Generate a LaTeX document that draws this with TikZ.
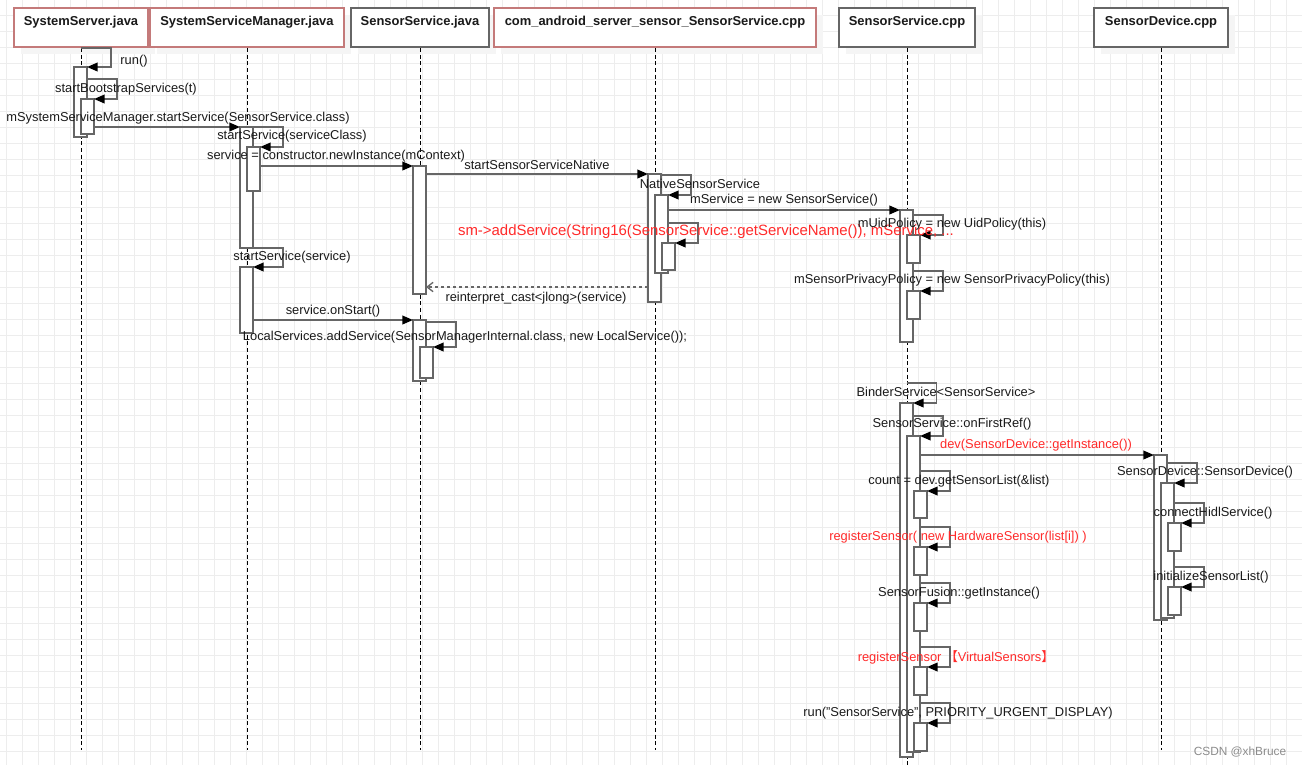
\documentclass[tikz,border=0pt]{standalone}
\usepackage{fontspec}
\setmainfont{Liberation Sans}
\newfontfamily\cjk{Noto Sans CJK SC}
\usetikzlibrary{arrows.meta,calc,shadows}
\definecolor{gridc}{HTML}{EDEDED}
\definecolor{linec}{HTML}{666666}
\definecolor{hdrred}{HTML}{C47A7A}
\definecolor{hdrgray}{HTML}{666666}
\definecolor{redtxt}{HTML}{FF2A2A}
\definecolor{txtc}{HTML}{1A1A1A}
\newcommand\actbox[4]{\node[act,minimum height={(#4-#3)*0.75pt}] (#1) at (#2,#3) {};}
\begin{document}
\begin{tikzpicture}[x=0.75pt,y=-0.75pt,
  font=\fontsize{9.65}{11}\selectfont,
  gridl/.style={draw=gridc,line width=0.75pt},
  hdr/.style={draw,fill=white,line width=1.5pt,font=\bfseries\fontsize{9.7}{11}\selectfont,
    inner xsep=0pt,inner ysep=6pt,text height=6.75pt,text depth=10.5pt,anchor=north,
    text=txtc,
    drop shadow={shadow xshift=5.25pt,shadow yshift=-5.25pt,fill=black!4,opacity=1}},
  hdrR/.style={hdr,draw=hdrred},
  hdrG/.style={hdr,draw=hdrgray},
  life/.style={draw=black,line width=0.75pt,dash pattern=on 3pt off 2pt},
  act/.style={draw=linec,fill=white,line width=1.3pt,minimum width=9.75pt,inner sep=0pt,outer sep=0pt,anchor=north west},
  msg/.style={draw=linec,line width=1.3pt,-{Triangle[length=8pt,width=6.5pt,color=black]}},
  ret/.style={draw=linec,line width=1pt,dash pattern=on 2.5pt off 2pt,-{Straight Barb[length=4.5pt,width=7pt,color=linec]}},
  lbl/.style={inner sep=0pt,text=txtc},
  rlbl/.style={inner sep=0pt,text=redtxt}]
\useasboundingbox (0,0) rectangle (1302,765);
\fill[white] (0,0) rectangle (1302,765);
% grid
\foreach \i in {0,...,81} \draw[gridl] (6.5+16*\i,0) -- (6.5+16*\i,765);
\foreach \j in {0,...,47} \draw[gridl] (0,15.3+16*\j) -- (1302,15.3+16*\j);
% headers
\node[hdrR,minimum width={134*0.75pt}] (h1) at (81,7) {SystemServer.java};
\node[hdrR,minimum width={194*0.75pt}] (h2) at (247,7) {SystemServiceManager.java};
\node[hdrG,minimum width={138*0.75pt}] (h3) at (420,7) {SensorService.java};
\node[hdrR,minimum width={322*0.75pt}] (h4) at (655,7) {com\_android\_server\_sensor\_SensorService.cpp};
\node[hdrG,minimum width={136*0.75pt}] (h5) at (907,7) {SensorService.cpp};
\node[hdrG,minimum width={134*0.75pt}] (h6) at (1161,7) {SensorDevice.cpp};
% lifelines
\coordinate (e1) at (81,750);
\coordinate (e2) at (247,750);
\coordinate (e3) at (420,750);
\coordinate (e4) at (655,750);
\coordinate (e5) at (907,765);
\coordinate (e6) at (1161,750);
\draw[life] (h1.south) -- (e1);
\draw[life] (h2.south) -- (e2);
\draw[life] (h3.south) -- (e3);
\draw[life] (h4.south) -- (e4);
\draw[life] (h5.south) -- (e5);
\draw[life] (h6.south) -- (e6);
% activations
\actbox{ssA}{74}{67}{137}
\actbox{ssB}{81}{99}{134}
\actbox{ssmA}{240}{127}{248}
\actbox{ssmB}{247}{147}{191}
\actbox{ssmC}{240}{267}{333}
\actbox{jA}{413}{166}{294}
\actbox{jB}{413}{320}{381}
\actbox{jC}{420}{347}{378}
\actbox{cA}{648}{174}{302}
\actbox{cB}{655}{195}{273}
\actbox{cC}{662}{243}{270}
\actbox{sA}{900}{210}{342}
\actbox{sB}{907}{235}{263}
\actbox{sC}{907}{291}{319}
\actbox{sD}{900}{403}{757}
\actbox{sE}{907}{436}{752}
\actbox{sF}{914}{491}{518}
\actbox{sG}{914}{547}{575}
\actbox{sH}{914}{603}{631}
\actbox{sI}{914}{667}{695}
\actbox{sJ}{914}{723}{751}
\actbox{dA}{1154}{455}{620}
\actbox{dB}{1161}{483}{618}
\actbox{dC}{1168}{523}{551}
\actbox{dD}{1168}{587}{615}
% self calls
\draw[msg] (h1.south) -- ++(30,0) |- (ssA.north east);
\draw[msg] ($(ssA.east |- ssB.north)+(0,-20)$) -- ++(30,0) |- (ssB.north east);
\draw[msg] ($(ssmA.east |- ssmB.north)+(0,-20)$) -- ++(30,0) |- (ssmB.north east);
\draw[msg] (ssmA.south east) -- ++(30,0) |- (ssmC.north east);
\draw[msg] ($(jB.east |- jC.north)+(0,-25)$) -- ++(30,0) |- (jC.north east);
\draw[msg] ($(cA.east |- cB.north)+(0,-20)$) -- ++(30,0) |- (cB.north east);
\draw[msg] ($(cB.east |- cC.north)+(0,-20)$) -- ++(30,0) |- (cC.north east);
\draw[msg] ($(sA.east |- sB.north)+(0,-20)$) -- ++(30,0) |- (sB.north east);
\draw[msg] ($(sA.east |- sC.north)+(0,-20)$) -- ++(30,0) |- (sC.north east);
\draw[msg] ($(sD.north)+(0,-20)$) -- ++(30,0) |- (sD.north east);
\draw[msg] ($(sD.east |- sE.north)+(0,-20)$) -- ++(30,0) |- (sE.north east);
\draw[msg] ($(sE.east |- sF.north)+(0,-20)$) -- ++(30,0) |- (sF.north east);
\draw[msg] ($(sE.east |- sG.north)+(0,-20)$) -- ++(30,0) |- (sG.north east);
\draw[msg] ($(sE.east |- sH.north)+(0,-20)$) -- ++(30,0) |- (sH.north east);
\draw[msg] ($(sE.east |- sI.north)+(0,-20)$) -- ++(30,0) |- (sI.north east);
\draw[msg] ($(sE.east |- sJ.north)+(0,-20)$) -- ++(30,0) |- (sJ.north east);
\draw[msg] ($(dA.east |- dB.north)+(0,-20)$) -- ++(30,0) |- (dB.north east);
\draw[msg] ($(dB.east |- dC.north)+(0,-20)$) -- ++(30,0) |- (dC.north east);
\draw[msg] ($(dB.east |- dD.north)+(0,-20)$) -- ++(30,0) |- (dD.north east);
% messages
\draw[msg] (ssB.east |- ssmA.north) -- (ssmA.north west);
\draw[msg] (ssmB.east |- jA.north) -- (jA.north west);
\draw[msg] (ssmC.east |- jB.north) -- (jB.north west);
\draw[msg] (jA.east |- cA.north) -- (cA.north west);
\draw[msg] (cB.east |- sA.north) -- (sA.north west);
\draw[msg] (sE.east |- dA.north) -- (dA.north west);
\coordinate (r1) at ($(cA.south west)+(0,-15)$);
\draw[ret] (r1) -- (jA.east |- r1);
% labels
\node[lbl] (l1) at (134,61) {run()};
\node[lbl] (l2) at (126,89) {startBootstrapServices(t)};
\node[lbl] (l3) at (178,118) {mSystemServiceManager.startService(SensorService.class)};
\node[lbl] (l4) at (292,136) {startService(serviceClass)};
\node[lbl] (l5) at (336,156) {service = constructor.newInstance(mContext)};
\node[lbl] (l6) at (292,257) {startService(service)};
\node[lbl] (l7) at (333,311) {service.onStart()};
\node[lbl] (l8) at (465,337) {LocalServices.addService(SensorManagerInternal.class, new LocalService());};
\node[lbl] (l9) at (537,165) {startSensorServiceNative};
\node[lbl] (l10) at (536,298) {reinterpret\_cast<jlong>(service)};
\node[lbl] (l11) at (700,184) {NativeSensorService};
\node[lbl] (l12) at (784,200) {mService = new SensorService()};
\node[rlbl,font=\fontsize{11.2}{13}\selectfont] (l13) at (706,232) {sm->addService(String16(SensorService::getServiceName()), mService, ...};
\node[lbl] (l14) at (952,224) {mUidPolicy = new UidPolicy(this)};
\node[lbl] (l15) at (952,280) {mSensorPrivacyPolicy = new SensorPrivacyPolicy(this)};
\node[lbl] (l16) at (946,392) {BinderService<SensorService>};
\node[lbl] (l17) at (952,424) {SensorService::onFirstRef()};
\node[rlbl] (l18) at (1036,445) {dev(SensorDevice::getInstance())};
\node[lbl] (l19) at (959,481) {count = dev.getSensorList(\&list)};
\node[rlbl] (l20) at (958,537) {registerSensor( new HardwareSensor(list[i]) )};
\node[lbl] (l21) at (959,593) {SensorFusion::getInstance()};
\node[rlbl] (l22) at (956,657) {registerSensor {\cjk 【}VirtualSensors{\cjk 】}};
\node[lbl] (l23) at (958,713) {run("SensorService", PRIORITY\_URGENT\_DISPLAY)};
\node[lbl] (l24) at (1205,472) {SensorDevice::SensorDevice()};
\node[lbl] (l25) at (1213,513) {connectHidlService()};
\node[lbl] (l26) at (1211,577) {initializeSensorList()};
\node[inner sep=0pt,text=black!45,font=\fontsize{8.9}{10}\selectfont] (wm) at (1240,752) {CSDN @xhBruce};
\end{tikzpicture}
\end{document}
